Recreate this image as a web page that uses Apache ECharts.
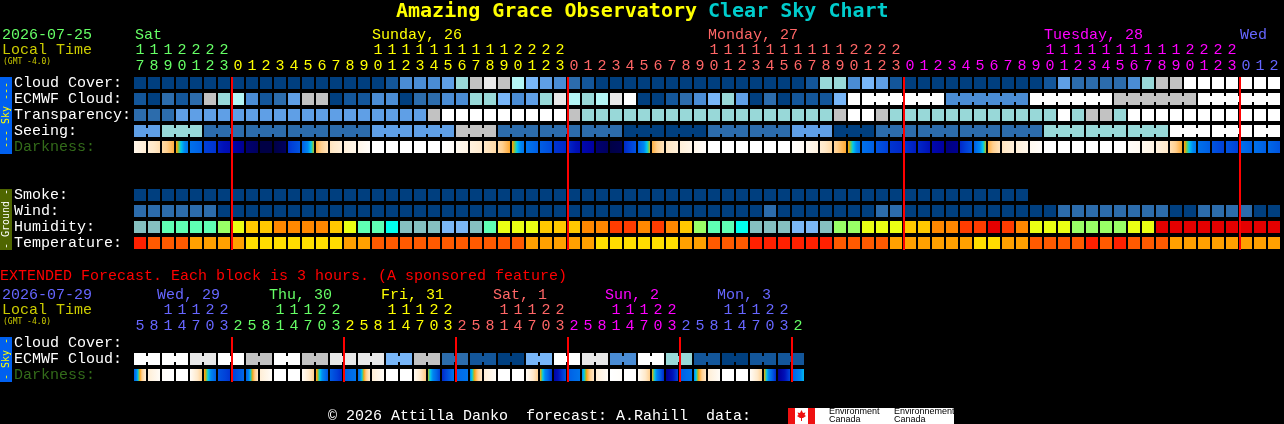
<!DOCTYPE html>
<html>
<head>
<meta charset="utf-8">
<style>html,body{margin:0;padding:0;background:#000}#c{width:1284px;height:424px}</style>
<script src="https://cdn.jsdelivr.net/npm/echarts@6/dist/echarts.min.js"></script>
</head>
<body>
<div id="c"></div>
<script>
// ---------- categories and tick labels ----------
const hoursMain = [17,18,19,20,21,22,23,
  0,1,2,3,4,5,6,7,8,9,10,11,12,13,14,15,16,17,18,19,20,21,22,23,
  0,1,2,3,4,5,6,7,8,9,10,11,12,13,14,15,16,17,18,19,20,21,22,23,
  0,1,2,3,4,5,6,7,8,9,10,11,12,13,14,15,16,17,18,19,20,21,22,23,
  0,1,2];
const hoursExt = [5,8,11,14,17,20,23,
  2,5,8,11,14,17,20,23, 2,5,8,11,14,17,20,23, 2,5,8,11,14,17,20,23,
  2,5,8,11,14,17,20,23, 2,5,8,11,14,17,20,23, 2];
const rowsMain = ['Cloud Cover:','ECMWF Cloud:','Transparency:','Seeing:','Darkness:','','','Smoke:','Wind:','Humidity:','Temperature:'];
const rowsExt = ['Cloud Cover:','ECMWF Cloud:','Darkness:'];
const dayStartsMain = [0,7,31,55,79];
const dayStartsExt = [0,7,15,23,31,39,47];

// ---------- series values (forecast levels, 0 = clear/dark … 10 = overcast/poor) ----------
const cloudCover = [0,0,0,0,0,0,0,0,0,0,0,0,0,0,0,0,0,0,
  1,3,3,3,4,6,8,9,8,7,5,4,3,2,1,
  0,0,0,0,0,0,0,0,0,0,0,0,0,0,0,
  1,6,6,3,5,4,1,
  0,0,0,0,0,0,0,0,0,0,
  1,4,2,2,2,2,3,6,8,8,
  10,10,10,10,10,10,10];
const ecmwfCloud = [1,0,2,1,2,8,6,7,3,1,
  2,4,8,8,0,1,1,3,3,0,
  2,2,3,3,6,6,5,3,4,6,
  9,7,6,7,9,10,0,0,1,2,
  3,5,6,4,0,2,0,1,1,1,
  5,10,
  10,10,10,10,10,10, 3,3,3,3,3,3, 10,10,10,10,10,10, 8,8,8,8,8,8, 10,10,10,10,10,10];
const transparency = [2,2,2,
  4,4,4,4,4,4,4,4,4,4,4,4,4,4,4,4,4,4,
  8,10,10,10,10,10,10,10,10,10,8,
  6,6,6,6,6,6,6,6,6,6,6,6,6,6,6,6,6,6,
  8,10,10,8,
  6,6,6,6,6,6,6,6,6,6,6,6,
  10,6,8,8,6,
  10,10,10,10,10,10,10,10,10,10,10];
const seeing = [4,4,6,6,6,
  2,2,2,2,2,2,2,2,2,2,2,2,
  4,4,4,4,4,4,
  8,8,8,
  2,2,2,2,2,2,2,2,2,
  0,0,0,0,0,0,
  2,2,2,2,2,2,
  4,4,4,0,0,0,
  2,2,2,2,2,2,2,2,2,2,2,2,
  6,6,6,6,6,6,6,6,6,
  10,10,10,10,10,10,10,10];
const seeingBlockEnd = [1,4,7,10,13,16,19,22,25,28,31,34,37,40,43,46,49,52,55,58,61,64,67,70,73,76,79,81];
const ecmwfBlockEnd = [57,63,69,75,81];
const darkness = [[8,16],[16,24],[26,36],[38,55],[56,60],[66,68],[72,76],[80,84],[88,90],[94,94],
  [94,90],[68,62],[60,40],[36,22],[22,14],[14,8],[8,2],[0,0],[0,0],[0,0],
  [0,0],[0,0],[0,3],[6,10],[12,18],[20,26],[26,37],[38,55],[55,60],[60,64],
  [68,70],[70,76],[78,82],[88,90],[94,92],[70,62],[60,40],[36,22],[22,14],[14,8],
  [8,2],[0,0],[0,0],[0,0],[0,0],[0,0],[0,0],[1,4],[6,12],[16,26],
  [28,37],[38,55],[56,60],[62,66],[68,70],[68,72],[70,74],[78,82],[86,84],[70,62],
  [60,40],[36,22],[22,14],[14,8],[6,2],[0,0],[0,0],[0,0],[0,0],[0,0],
  [0,0],[2,5],[6,10],[12,20],[24,37],[38,54],[56,60],[62,66],[62,66],[56,60],
  [56,60],[58,62]];
const smoke = [0,0,0,0,0,0,0,0,0,0,0,0,0,0,0,0,0,0,0,0,0,0,0,0,0,0,0,0,0,0,0,0,
  0,0,0,0,0,0,0,0,0,0,0,0,0,0,0,0,0,0,0,0,0,0,0,0,0,0,0,0,0,0,0,0];
const wind = [2,2,2,2,2,2,
  0,0,0,0,0,0,0,0,0,0,0,0,0,0,0,0,0,0,0,0,0,0,0,0,0,0,0,0,0,0,0,0,0,0,0,0,0,0,0,
  2,0,0,0,0,0,0,0,2,2,
  0,0,0,0,0,0,0,0,0,0,0,
  2,2,2,2,2,2,2,2,0,0,2,2,2,2,0,0];
const humidity = [1,1,3,3,3,3,4,5,6,6,
  7,7,7,7,6,5,3,3,2,1,
  1,1,0,0,1,3,5,5,5,6,
  6,6,7,7,8,8,7,8,7,6,
  4,3,3,2,1,1,1,0,0,1,
  4,4,5,5,5,6,6,7,7,8,
  8,9,8,7,5,5,5,4,4,4,
  4,5,5,9,9,9,9,9,9,9,9,9];
const temperature = [3,2,2,2,1,1,1,1,0,0,0,0,0,0,0,1,1,
  2,2,2,2,2,2,2,2,2,2,2,
  1,1,1,1,1,0,0,0,0,0,0,1,1,2,2,2,
  3,3,3,3,3,3,2,2,2,2,
  1,1,1,1,1,1,0,0,1,1,2,2,2,2,3,2,3,2,2,2,
  1,1,1,1,1,1,1,1];
const extCloud = [10,10,10,10,9,9,10,10,8,8,10,10,8,8,9,9,9,9,5,5,8,8,
  2,2,1,1,0,0,5,5,10,10,9,9,3,3,10,10,6,6,1,1,0,0,1,1,1,1];
const extBlockEnd = [1,3,5,7,9,11,13,15,17,19,21,23,25,27,29,31,33,35,37,39,41,43,45,47];
const extDarkness = [[60,15],[15,3],[2,0],[0,0],[3,30],[37,60],[62,68],[66,58],
  [60,20],[15,3],[0,0],[0,0],[3,30],[37,62],[60,70],[60,55],
  [58,18],[15,3],[0,0],[0,0],[5,32],[40,66],[70,55],[58,55],
  [50,20],[15,3],[0,0],[0,0],[3,30],[38,68],[80,62],[60,55],
  [50,20],[15,3],[0,2],[0,0],[3,30],[38,70],[85,65],[60,55],
  [50,20],[15,3],[0,0],[0,0],[3,30],[38,70],[85,65],[60,46]];

// ---------- colour scales ----------
const cloudScale = ['#003f7f','#13569a','#2c6cac','#4a8cd4','#5f9fe6','#78b6f8','#98d8d8','#b3f5f5','#c2c2c2','#e8e8e8','#ffffff'];
const humidityScale = ['#7ab6f5','#85c0c0','#00ffee','#5fffb4','#99ff66','#eaff14','#ffc800','#ff8800','#ff3c00','#e40000'];
const temperatureScale = ['#ffdd00','#ffa000','#ff5a00','#ff2000'];
const darkStops = [[0,'#ffffff'],[10,'#fff4e4'],[20,'#ffe8c8'],[30,'#ffd090'],[36,'#ffae40'],[39,'#f8a000'],[42,'#60d060'],[45,'#00c8f0'],[50,'#0088f0'],[58,'#0068e8'],[66,'#0040d8'],[74,'#0010b8'],[82,'#0000a0'],[90,'#000060'],[96,'#000038']];
const dayColoursMain = ['#66ff66','#ffff00','#ff6666','#ff00ff','#6666ff'];
const dayColoursExt = ['#6666ff','#66ff66','#ffff00','#ff6666','#ff00ff','#6666ff','#66ff66'];

const FONT = '"Liberation Mono"';
const HEAD = '"DejaVu Sans Mono"';
function hex(c){return [1,3,5].map(i=>parseInt(c.substr(i,2),16));}
function darkColour(v){
  for(let i=1;i<darkStops.length;i++){
    if(v<=darkStops[i][0]){
      const a=darkStops[i-1],b=darkStops[i],t=(v-a[0])/(b[0]-a[0]);
      const p=hex(a[1]),q=hex(b[1]);
      return 'rgb('+p.map((x,k)=>Math.round(x+(q[k]-x)*t)).join(',')+')';
    }
  }
  return darkStops[darkStops.length-1][1];
}
function dayIndex(starts,i){let d=0;starts.forEach((s,k)=>{if(i>=s)d=k;});return d;}

function cellSeries(gridIdx,row,values,scale,blockEnds){
  const firstJoined = blockEnds===ecmwfBlockEnd ? 52 : 0;
  return {
    type:'custom',xAxisIndex:gridIdx*2,yAxisIndex:gridIdx,coordinateSystem:'cartesian2d',silent:true,
    encode:{x:0,y:1},
    data:values.map((v,i)=>[i,row,v]),
    renderItem:function(params,api){
      const c=api.value(0),p=api.coord([c,row]),col=scale[api.value(2)];
      const children=[{type:'rect',shape:{x:p[0]-6,y:p[1]-6,width:12,height:12},style:{fill:col}}];
      if(blockEnds&&blockEnds.indexOf(c)<0&&c>=firstJoined){
        children.push({type:'rect',shape:{x:p[0]+6,y:p[1]-3,width:2,height:6},style:{fill:col}});
      }
      return {type:'group',children};
    }
  };
}
function darkSeries(gridIdx,row,pairs){
  return {
    type:'custom',xAxisIndex:gridIdx*2,yAxisIndex:gridIdx,coordinateSystem:'cartesian2d',silent:true,
    encode:{x:0,y:1},
    data:pairs.map((v,i)=>[i,row,v[0],v[1]]),
    renderItem:function(params,api){
      const p=api.coord([api.value(0),row]),a=api.value(2),b=api.value(3),stops=[];
      for(let k=0;k<=12;k++)stops.push({offset:k/12,color:darkColour(a+(b-a)*k/12)});
      return {type:'rect',shape:{x:p[0]-6,y:p[1]-6,width:12,height:12},
        style:{fill:new echarts.graphic.LinearGradient(0,0,1,0,stops)}};
    }
  };
}
function lineSeries(gridIdx,cols,lastRow){
  return {
    type:'custom',xAxisIndex:gridIdx*2,yAxisIndex:gridIdx,coordinateSystem:'cartesian2d',silent:true,z:10,
    encode:{x:0},
    data:cols.map(c=>[c,0]),
    renderItem:function(params,api){
      const top=api.coord([api.value(0),0]),bot=api.coord([api.value(0),lastRow]),s=api.size([1,1]);
      return {type:'rect',shape:{x:top[0]-s[0]/2,y:top[1]-6,width:2,height:bot[1]-top[1]+13},style:{fill:'#ff0000'}};
    }
  };
}
function xAxes(gridIdx,hours,starts,colours,margin){
  const base={type:'category',gridIndex:gridIdx,position:'top',data:hours,
    axisLine:{show:false},axisTick:{show:false},splitLine:{show:false}};
  const lab=(fmt,m)=>({interval:0,hideOverlap:false,fontFamily:FONT,fontSize:15,margin:m,
    formatter:fmt,color:(v,i)=>colours[dayIndex(starts,i)]});
  return [
    Object.assign({},base,{axisLabel:lab(v=>String(+v%10),margin)}),
    Object.assign({},base,{axisLabel:lab(v=>+v>=10?String(Math.floor(+v/10)):'',margin+16)})
  ];
}
function yAxis(gridIdx,rows){
  return {type:'category',gridIndex:gridIdx,inverse:true,data:rows,
    axisLine:{show:false},axisTick:{show:false},splitLine:{show:false},
    axisLabel:{interval:0,hideOverlap:false,fontFamily:FONT,fontSize:15,margin:119,align:'left',padding:[0,0,2,0],
      color:v=>v==='Darkness:'?'#336b1a':'#ffffff'}};
}
function txt(x,y,text,fill,size,extra){
  const fam=(extra&&extra.family)||FONT;
  return {type:'text',x,y,silent:true,style:{text,fill,font:((extra&&extra.weight)||'')+' '+size+'px '+fam,verticalAlign:'middle'}};
}
function vtxt(x,y,text,fill,size){
  return {type:'text',x,y,rotation:Math.PI/2,silent:true,style:{text,fill,font:size+'px '+HEAD,align:'center',verticalAlign:'middle'}};
}
const bars=[
  {type:'rect',shape:{x:0,y:77,width:12,height:77},style:{fill:'#0060f0'},silent:true},
  {type:'rect',shape:{x:0,y:189,width:12,height:61},style:{fill:'#4f6600'},silent:true},
  {type:'rect',shape:{x:0,y:337,width:12,height:45},style:{fill:'#0060f0'},silent:true}
];
const texts=[
  txt(396,12,'Amazing Grace Observatory','#ffff00',20,{weight:'bold',family:HEAD}),
  txt(708,12,'Clear Sky Chart','#00cccc',20,{weight:'bold',family:HEAD}),
  txt(2,35,'2026-07-25','#66ff66',15),
  txt(2,50,'Local Time','#cccc00',15),
  txt(3,62,'(GMT -4.0)','#cccc00',8,{family:HEAD}),
  txt(135,35,'Sat','#66ff66',15),
  txt(372,35,'Sunday, 26','#ffff00',15),
  txt(708,35,'Monday, 27','#ff6666',15),
  txt(1044,35,'Tuesday, 28','#ff00ff',15),
  txt(1240,35,'Wed','#6666ff',15),
  txt(0,276,'EXTENDED Forecast. Each block is 3 hours. (A sponsored feature)','#ff0000',15),
  txt(2,295,'2026-07-29','#6666ff',15),
  txt(2,310,'Local Time','#cccc00',15),
  txt(3,322,'(GMT -4.0)','#cccc00',8,{family:HEAD}),
  txt(157,295,'Wed, 29','#6666ff',15),
  txt(269,295,'Thu, 30','#66ff66',15),
  txt(381,295,'Fri, 31','#ffff00',15),
  txt(493,295,'Sat, 1','#ff6666',15),
  txt(605,295,'Sun, 2','#ff00ff',15),
  txt(717,295,'Mon, 3','#6666ff',15),
  txt(328,416,'© 2026 Attilla Danko  forecast: A.Rahill  data:','#ffffff',15),
  vtxt(6,115,'--- Sky ---','#ffff00',10),
  vtxt(6,219,'- Ground -','#ffffff',10),
  vtxt(6,359,'- Sky -','#ffff00',10)
];
const flag=[
  {type:'rect',shape:{x:788,y:408,width:166,height:16},style:{fill:'#ffffff'},silent:true},
  {type:'rect',shape:{x:788,y:408,width:7,height:16},style:{fill:'#ee1111'},silent:true},
  {type:'rect',shape:{x:808,y:408,width:7,height:16},style:{fill:'#ee1111'},silent:true},
  {type:'polygon',silent:true,shape:{points:[[801.5,410],[803,413],[805.5,412.5],[804.5,415],[806,416],[803,418],[802,418],[802,421],[801,421],[801,418],[800,418],[797,416],[798.5,415],[797.5,412.5],[800,413]]},style:{fill:'#ee1111'}},
  {type:'text',x:829,y:412,silent:true,style:{text:'Environment',fill:'#000',font:'9px "Liberation Sans"',verticalAlign:'middle'}},
  {type:'text',x:829,y:420,silent:true,style:{text:'Canada',fill:'#000',font:'9px "Liberation Sans"',verticalAlign:'middle'}},
  {type:'text',x:894,y:412,silent:true,style:{text:'Environnement',fill:'#000',font:'9px "Liberation Sans"',verticalAlign:'middle'}},
  {type:'text',x:894,y:420,silent:true,style:{text:'Canada',fill:'#000',font:'9px "Liberation Sans"',verticalAlign:'middle'}}
];

const chart=echarts.init(document.getElementById('c'),null,{renderer:'canvas',width:1284,height:424});
chart.setOption({
  backgroundColor:'#000000',animation:false,tooltip:{show:false},
  grid:[
    {left:133,top:75,width:hoursMain.length*14,height:rowsMain.length*16},
    {left:133,top:335,width:hoursExt.length*14,height:rowsExt.length*16}
  ],
  xAxis:[...xAxes(0,hoursMain,dayStartsMain,dayColoursMain,1),...xAxes(1,hoursExt,dayStartsExt,dayColoursExt,1)],
  yAxis:[yAxis(0,rowsMain),yAxis(1,rowsExt)],
  series:[
    cellSeries(0,0,cloudCover,cloudScale),
    cellSeries(0,1,ecmwfCloud,cloudScale,ecmwfBlockEnd),
    cellSeries(0,2,transparency,cloudScale),
    cellSeries(0,3,seeing,cloudScale,seeingBlockEnd),
    darkSeries(0,4,darkness),
    cellSeries(0,7,smoke,cloudScale),
    cellSeries(0,8,wind,cloudScale),
    cellSeries(0,9,humidity,humidityScale),
    cellSeries(0,10,temperature,temperatureScale),
    lineSeries(0,dayStartsMain.slice(1),10),
    cellSeries(1,1,extCloud,cloudScale,extBlockEnd),
    darkSeries(1,2,extDarkness),
    lineSeries(1,dayStartsExt.slice(1),2)
  ],
  graphic:{elements:[...bars,...texts,...flag]}
});
</script>
</body>
</html>
